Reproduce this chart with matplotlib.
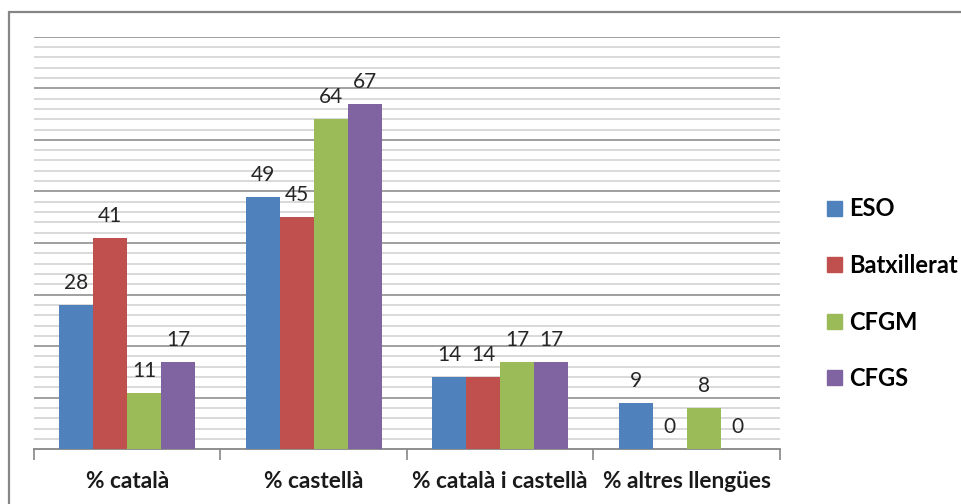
import matplotlib
matplotlib.use("Agg")
import matplotlib.pyplot as plt
import numpy as np
from matplotlib.patches import Rectangle

categories = ["% català", "% castellà", "% català i castellà", "% altres llengües"]
series = ["ESO", "Batxillerat", "CFGM", "CFGS"]
eso = [28, 49, 14, 9]
batx = [41, 45, 14, 0]
cfgm = [11, 64, 17, 8]
cfgs = [17, 67, 17, 0]
colors = ["#4F81BD", "#C0504D", "#9BBB59", "#8064A2"]

plt.rcParams['font.family'] = ['Lato', 'DejaVu Sans']

fig = plt.figure(figsize=(9.62, 5.04), dpi=100)
# outer chart border
fig.patches.append(Rectangle((9/962, -0.1), 1.2, (504-12)/504 + 0.1, transform=fig.transFigure,
                             fill=False, edgecolor="#868686", linewidth=1.6, zorder=0))

ax = fig.add_axes([34/962, (504-449.3)/504, (780-34)/962, (449.3-36.7)/504])
values = [eso, batx, cfgm, cfgs]
w = 1 / 5.5
x = np.arange(len(categories))
for i, (vals, name, c) in enumerate(zip(values, series, colors)):
    pos = x - 2 * w + (i + 0.5) * w
    ax.bar(pos, vals, width=w, color=c, label=name, zorder=3, linewidth=0)
    for p, v in zip(pos, vals):
        ax.annotate(str(v), (p, v), xytext=(0, 8.5), textcoords="offset points",
                    ha="center", va="bottom", fontsize=15, color="#262626")

ax.set_xlim(-0.5, len(categories) - 0.5)
ax.set_ylim(0, 80)
for yv in range(2, 81, 2):
    if yv % 10 == 0:
        ax.axhline(yv, color="#999999", linewidth=1.3, zorder=1)
    else:
        ax.axhline(yv, color="#d0d0d0", linewidth=1.1, zorder=1)

for s in ["top", "right", "left"]:
    ax.spines[s].set_visible(False)
ax.spines["bottom"].set_color("#868686")
ax.spines["bottom"].set_linewidth(1.3)
ax.set_yticks([])
ax.set_xticks(np.arange(-0.5, len(categories)), minor=False)
ax.set_xticklabels([])
ax.tick_params(axis="x", length=8, color="#868686", width=1.2)
for xi, cat in zip(x, categories):
    ax.text(xi, -6.3, cat, ha="center", va="center", fontsize=16.3, fontweight="bold",
            color="#1a1a1a", transform=ax.transData)

handles = [Rectangle((0, 0), 1, 1, color=c) for c in colors]
leg = fig.legend(handles, series, loc="upper left", bbox_to_anchor=(818/962, (504-188)/504),
                 frameon=False, prop={"size": 17, "weight": "bold"}, handlelength=0.6,
                 handleheight=0.6, handletextpad=0.3, labelspacing=1.42, borderaxespad=0)

fig.savefig("out.png", dpi=100)
